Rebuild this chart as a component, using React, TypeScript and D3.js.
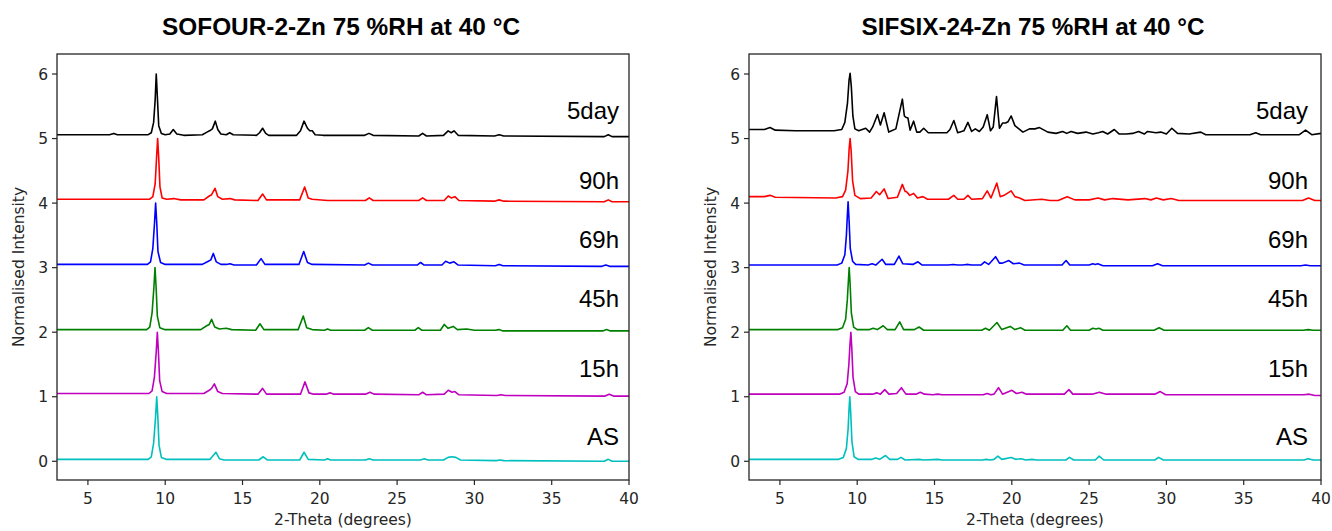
import React from "react";
import * as d3 from "d3";

type Pt = [number, number];

// ---------- Data ----------
const seriesNames = ["5day", "90h", "69h", "45h", "15h", "AS"];
const seriesColors = ["#000000", "#ff0000", "#0000ff", "#008000", "#bf00bf", "#00bfbf"];
const labelBaselines = [5.31, 4.22, 3.31, 2.39, 1.31, 0.25];
const yTicks = [0, 1, 2, 3, 4, 5, 6];
const xTicks = [5, 10, 15, 20, 25, 30, 35, 40];
const xDomain: [number, number] = [3, 40];
const yDomain: [number, number] = [-0.29, 6.31];
const titles = ["SOFOUR-2-Zn 75 %RH at 40 °C", "SIFSIX-24-Zn 75 %RH at 40 °C"];

const sofour5day: Pt[] = [[3,5.06],[6.4,5.06],[6.67,5.08],[6.9,5.06],[8.9,5.06],[9.1,5.09],[9.25,5.25],[9.35,5.6],[9.42,6.0],[9.5,5.6],[9.58,5.2],[9.75,5.08],[10.0,5.06],[10.3,5.07],[10.52,5.14],[10.75,5.07],[11.2,5.05],[12.4,5.06],[12.7,5.1],[12.87,5.12],[13.05,5.15],[13.24,5.27],[13.4,5.14],[13.6,5.07],[13.95,5.06],[14.17,5.09],[14.4,5.06],[15.9,5.05],[16.1,5.09],[16.3,5.16],[16.5,5.08],[16.7,5.05],[18.5,5.05],[18.75,5.12],[18.98,5.27],[19.2,5.16],[19.35,5.12],[19.51,5.12],[19.7,5.06],[20.2,5.05],[22.9,5.05],[23.18,5.08],[23.45,5.05],[26.4,5.04],[26.65,5.08],[26.9,5.04],[28.0,5.05],[28.3,5.12],[28.5,5.09],[28.68,5.12],[28.95,5.05],[31.3,5.04],[31.6,5.06],[31.9,5.04],[38.4,5.03],[38.66,5.06],[38.9,5.03],[40,5.03]];
const sofour90h: Pt[] = [[3,4.06],[9.0,4.06],[9.2,4.1],[9.35,4.3],[9.44,4.7],[9.51,5.0],[9.58,4.7],[9.66,4.25],[9.8,4.08],[10.1,4.06],[10.55,4.07],[11,4.05],[12.5,4.05],[12.85,4.11],[13.0,4.13],[13.22,4.23],[13.4,4.1],[13.7,4.06],[14.19,4.07],[14.5,4.05],[16.0,4.04],[16.3,4.14],[16.55,4.05],[18.7,4.05],[19.02,4.25],[19.25,4.08],[19.5,4.06],[20.5,4.04],[22.95,4.04],[23.2,4.08],[23.45,4.04],[26.4,4.04],[26.65,4.08],[26.9,4.04],[28.05,4.04],[28.31,4.11],[28.5,4.08],[28.74,4.1],[29.0,4.04],[31.3,4.03],[31.6,4.05],[31.9,4.03],[38.4,4.02],[38.66,4.05],[38.9,4.02],[40,4.02]];
const sofour69h: Pt[] = [[3,3.05],[8.85,3.05],[9.05,3.09],[9.2,3.3],[9.31,3.7],[9.38,4.0],[9.45,3.7],[9.53,3.25],[9.7,3.08],[10.0,3.05],[12.4,3.05],[12.79,3.1],[12.95,3.12],[13.11,3.22],[13.3,3.09],[13.6,3.05],[13.95,3.05],[14.19,3.06],[14.45,3.04],[15.9,3.04],[16.2,3.14],[16.45,3.05],[18.65,3.05],[18.96,3.25],[19.2,3.08],[19.5,3.05],[22.9,3.04],[23.14,3.07],[23.4,3.04],[26.3,3.04],[26.52,3.08],[26.75,3.04],[27.9,3.04],[28.14,3.1],[28.4,3.07],[28.68,3.09],[28.95,3.04],[31.35,3.03],[31.6,3.05],[31.85,3.03],[38.25,3.02],[38.5,3.04],[38.75,3.02],[40,3.02]];
const sofour45h: Pt[] = [[3,2.04],[8.8,2.04],[9.0,2.08],[9.15,2.3],[9.27,2.7],[9.34,3.0],[9.41,2.7],[9.49,2.25],[9.65,2.07],[9.95,2.04],[12.3,2.04],[12.68,2.1],[12.85,2.12],[13.0,2.2],[13.2,2.08],[13.5,2.05],[13.95,2.06],[14.3,2.04],[15.85,2.03],[16.13,2.13],[16.38,2.04],[18.6,2.04],[18.93,2.25],[19.15,2.07],[19.5,2.04],[20.3,2.03],[20.5,2.05],[20.7,2.03],[22.9,2.03],[23.14,2.07],[23.4,2.03],[26.15,2.03],[26.37,2.07],[26.6,2.03],[27.8,2.03],[28.05,2.12],[28.3,2.06],[28.63,2.09],[28.9,2.04],[29.5,2.05],[30,2.03],[31.35,2.03],[31.59,2.04],[31.85,2.02],[38.3,2.02],[38.55,2.04],[38.8,2.02],[40,2.02]];
const sofour15h: Pt[] = [[3,1.05],[8.95,1.05],[9.15,1.09],[9.3,1.3],[9.42,1.7],[9.49,2.0],[9.56,1.7],[9.64,1.25],[9.8,1.08],[10.1,1.05],[12.5,1.05],[12.85,1.1],[13.0,1.13],[13.18,1.2],[13.4,1.08],[13.7,1.05],[16.0,1.04],[16.3,1.13],[16.55,1.04],[18.75,1.04],[19.04,1.23],[19.3,1.06],[19.6,1.04],[20.4,1.04],[20.66,1.06],[20.9,1.04],[22.95,1.04],[23.25,1.07],[23.5,1.04],[26.4,1.03],[26.65,1.07],[26.9,1.03],[28.05,1.04],[28.31,1.1],[28.55,1.07],[28.74,1.08],[29.0,1.03],[31.45,1.02],[31.72,1.03],[32.0,1.02],[38.45,1.01],[38.72,1.04],[39.0,1.01],[40,1.01]];
const sofourAS: Pt[] = [[3,0.03],[8.9,0.03],[9.1,0.07],[9.25,0.28],[9.38,0.7],[9.45,1.0],[9.52,0.7],[9.6,0.25],[9.75,0.06],[10.05,0.03],[12.9,0.03],[13.28,0.14],[13.5,0.04],[13.8,0.02],[16.05,0.02],[16.34,0.07],[16.6,0.02],[18.7,0.02],[18.98,0.14],[19.25,0.03],[20.3,0.02],[20.5,0.04],[20.7,0.02],[22.95,0.02],[23.2,0.04],[23.45,0.02],[26.5,0.02],[26.76,0.04],[27.0,0.02],[28.0,0.02],[28.3,0.06],[28.53,0.07],[28.8,0.06],[29.1,0.02],[31.4,0.01],[31.66,0.02],[31.9,0.01],[38.4,0.0],[38.66,0.03],[38.9,0.0],[40,0.0]];

const sifsix5day: Pt[] = [[3,5.14],[4.0,5.14],[4.36,5.17],[4.7,5.13],[6,5.12],[8.5,5.12],[9.0,5.14],[9.2,5.25],[9.37,5.55],[9.47,5.9],[9.54,6.01],[9.62,5.8],[9.72,5.35],[9.85,5.15],[10.1,5.12],[10.55,5.16],[10.8,5.1],[11.0,5.18],[11.31,5.37],[11.5,5.21],[11.74,5.4],[12.04,5.1],[12.5,5.15],[12.92,5.61],[13.05,5.35],[13.14,5.33],[13.28,5.32],[13.42,5.13],[13.65,5.27],[13.85,5.1],[14.05,5.1],[14.3,5.16],[14.6,5.09],[15.8,5.09],[16.0,5.14],[16.25,5.28],[16.5,5.09],[16.9,5.12],[17.16,5.25],[17.4,5.11],[17.64,5.15],[17.9,5.11],[18.15,5.18],[18.41,5.37],[18.62,5.12],[18.8,5.18],[19.01,5.65],[19.2,5.16],[19.4,5.24],[19.6,5.24],[19.75,5.26],[19.96,5.35],[20.2,5.2],[20.4,5.16],[20.72,5.1],[21.14,5.15],[21.5,5.15],[21.79,5.17],[22.33,5.1],[22.86,5.08],[23.29,5.11],[23.55,5.08],[23.83,5.11],[24.26,5.08],[24.8,5.1],[25.24,5.07],[25.6,5.09],[25.88,5.11],[26.2,5.07],[26.63,5.14],[26.95,5.07],[27.4,5.07],[27.81,5.08],[28.2,5.11],[28.57,5.07],[28.78,5.11],[29.32,5.09],[29.64,5.1],[30.0,5.07],[30.35,5.16],[30.72,5.08],[31.47,5.07],[32.22,5.1],[32.55,5.06],[34,5.06],[35.4,5.06],[35.78,5.09],[36.1,5.06],[38.6,5.06],[39.0,5.13],[39.4,5.06],[40,5.08]];
const sifsix90h: Pt[] = [[3,4.1],[4.0,4.1],[4.36,4.12],[4.7,4.09],[8.6,4.08],[9.05,4.1],[9.25,4.2],[9.4,4.5],[9.48,4.85],[9.54,5.0],[9.61,4.8],[9.7,4.35],[9.85,4.12],[10.2,4.07],[10.9,4.08],[11.24,4.18],[11.45,4.13],[11.74,4.22],[12.0,4.07],[12.6,4.09],[12.92,4.29],[13.1,4.18],[13.18,4.18],[13.4,4.12],[13.65,4.15],[13.9,4.08],[14.25,4.1],[14.55,4.06],[15.9,4.06],[16.25,4.12],[16.5,4.06],[16.9,4.06],[17.16,4.12],[17.4,4.06],[18.1,4.07],[18.41,4.19],[18.65,4.08],[19.03,4.31],[19.25,4.1],[19.5,4.12],[19.96,4.19],[20.2,4.1],[20.5,4.08],[20.85,4.04],[21.93,4.06],[22.47,4.04],[23.0,4.04],[23.58,4.1],[24.08,4.05],[25.0,4.05],[25.58,4.08],[26.0,4.05],[26.55,4.07],[27.52,4.05],[28.6,4.07],[29.0,4.05],[29.35,4.08],[29.8,4.05],[30.32,4.07],[30.8,4.04],[31.4,4.04],[38.8,4.04],[39.2,4.08],[39.6,4.04],[40,4.04]];
const sifsix69h: Pt[] = [[3,3.04],[8.7,3.04],[9.0,3.07],[9.2,3.2],[9.3,3.5],[9.36,3.8],[9.41,4.02],[9.47,3.75],[9.55,3.3],[9.7,3.1],[9.9,3.05],[10.7,3.04],[10.96,3.06],[11.2,3.04],[11.61,3.13],[11.85,3.05],[12.4,3.05],[12.7,3.18],[12.95,3.06],[13.6,3.05],[13.93,3.09],[14.2,3.04],[15.9,3.04],[16.2,3.05],[16.5,3.04],[16.8,3.04],[17.08,3.05],[17.4,3.04],[18.0,3.04],[18.24,3.09],[18.5,3.05],[18.95,3.17],[19.2,3.07],[19.4,3.07],[19.81,3.11],[20.1,3.06],[20.5,3.07],[20.8,3.04],[23.25,3.04],[23.51,3.11],[23.75,3.04],[25.0,3.04],[25.24,3.06],[25.4,3.05],[25.56,3.06],[25.9,3.03],[29.1,3.03],[29.43,3.06],[29.75,3.03],[38.7,3.03],[39.0,3.04],[39.3,3.03],[40,3.03]];
const sifsix45h: Pt[] = [[3,2.04],[8.75,2.04],[9.05,2.07],[9.25,2.2],[9.36,2.5],[9.43,2.8],[9.48,3.0],[9.54,2.75],[9.62,2.3],[9.77,2.08],[10.0,2.04],[10.8,2.04],[11.03,2.06],[11.3,2.04],[11.68,2.1],[11.95,2.04],[12.45,2.04],[12.75,2.16],[13.0,2.04],[13.7,2.04],[14.0,2.08],[14.3,2.03],[14.8,2.03],[15.0,2.03],[18.05,2.03],[18.3,2.06],[18.55,2.03],[19.04,2.15],[19.35,2.04],[19.9,2.09],[20.2,2.04],[20.56,2.07],[20.85,2.03],[23.3,2.03],[23.56,2.1],[23.8,2.03],[25.0,2.03],[25.24,2.06],[25.45,2.05],[25.63,2.06],[25.9,2.03],[29.2,2.03],[29.53,2.07],[29.85,2.03],[38.85,2.03],[39.17,2.04],[39.5,2.03],[40,2.03]];
const sifsix15h: Pt[] = [[3,1.04],[8.85,1.04],[9.15,1.07],[9.35,1.2],[9.46,1.5],[9.53,1.8],[9.59,2.0],[9.65,1.75],[9.73,1.3],[9.88,1.08],[10.1,1.04],[11.0,1.04],[11.26,1.06],[11.5,1.04],[11.78,1.11],[12.05,1.04],[12.55,1.05],[12.86,1.14],[13.15,1.04],[13.8,1.04],[14.08,1.07],[14.35,1.04],[14.9,1.03],[15.2,1.04],[15.5,1.03],[18.15,1.03],[18.4,1.05],[18.65,1.03],[18.85,1.04],[19.14,1.14],[19.4,1.04],[20.01,1.1],[20.3,1.05],[20.66,1.07],[20.95,1.04],[23.4,1.04],[23.69,1.11],[23.95,1.04],[25.2,1.04],[25.66,1.07],[26.1,1.04],[29.25,1.04],[29.6,1.08],[29.95,1.03],[38.9,1.03],[39.24,1.04],[39.6,1.02],[40,1.02]];
const sifsixAS: Pt[] = [[3,0.03],[8.8,0.03],[9.1,0.06],[9.3,0.2],[9.41,0.5],[9.47,0.8],[9.52,1.0],[9.58,0.75],[9.66,0.3],[9.8,0.07],[10.05,0.03],[10.95,0.03],[11.2,0.05],[11.45,0.03],[11.83,0.09],[12.1,0.03],[12.6,0.03],[12.83,0.06],[13.1,0.02],[14.0,0.03],[14.3,0.02],[15.2,0.03],[15.5,0.02],[18.1,0.02],[18.34,0.03],[18.6,0.02],[18.85,0.03],[19.1,0.08],[19.35,0.03],[19.96,0.06],[20.25,0.03],[20.6,0.04],[20.9,0.02],[21.3,0.03],[21.6,0.02],[23.5,0.02],[23.73,0.06],[24.0,0.02],[25.4,0.02],[25.65,0.08],[25.95,0.02],[29.25,0.02],[29.5,0.06],[29.8,0.02],[38.9,0.02],[39.17,0.04],[39.5,0.02],[40,0.02]];

const sofourSeries = [sofour5day, sofour90h, sofour69h, sofour45h, sofour15h, sofourAS];
const sifsixSeries = [sifsix5day, sifsix90h, sifsix69h, sifsix45h, sifsix15h, sifsixAS];

// ---------- Rendering ----------
const W = 1332;
const H = 531;
const tickFont = "'DejaVu Sans', sans-serif";
const labelFont = "'Liberation Sans', Arial, sans-serif";
const axisColor = "#262626";

interface PanelProps {
  left: number;
  right: number;
  top: number;
  bottom: number;
  title: string;
  titleLen: number;
  series: Pt[][];
  labelInset: number;
  yLabelX: number;
  id: string;
}

function Panel({ left, right, top, bottom, title, titleLen, series, labelInset, yLabelX, id }: PanelProps) {
  const x = d3.scaleLinear().domain(xDomain).range([left, right]);
  const y = d3.scaleLinear().domain(yDomain).range([bottom, top]);
  const line = d3
    .line<Pt>()
    .x((d) => x(d[0]))
    .y((d) => y(d[1]))
    .curve(d3.curveLinear);
  const cx = (left + right) / 2;
  const cy = (top + bottom) / 2;
  return (
    <g>
      <defs>
        <clipPath id={id}>
          <rect x={left} y={top} width={right - left} height={bottom - top} />
        </clipPath>
      </defs>
      <text
        x={cx - 2}
        y={35}
        textAnchor="middle"
        fontFamily={labelFont}
        fontWeight="bold"
        fontSize={24}
        textLength={titleLen}
        lengthAdjust="spacingAndGlyphs"
        fill="#000"
      >
        {title}
      </text>
      <g clipPath={`url(#${id})`}>
        {series.map((s, i) => (
          <path
            key={i}
            d={line(s) || ""}
            fill="none"
            stroke={seriesColors[i]}
            strokeWidth={1.6}
            strokeLinejoin="round"
          />
        ))}
      </g>
      {series.map((_, i) => (
        <text
          key={"l" + i}
          x={right - labelInset}
          y={y(labelBaselines[i])}
          textAnchor="end"
          fontFamily={labelFont}
          fontSize={24}
          fill="#000"
        >
          {seriesNames[i]}
        </text>
      ))}
      <rect
        x={left}
        y={top}
        width={right - left}
        height={bottom - top}
        fill="none"
        stroke={axisColor}
        strokeWidth={1.3}
      />
      {xTicks.map((t) => (
        <g key={"x" + t}>
          <line x1={x(t)} x2={x(t)} y1={bottom} y2={bottom + 5} stroke={axisColor} strokeWidth={1.2} />
          <text
            x={x(t)}
            y={bottom + 24}
            textAnchor="middle"
            fontFamily={tickFont}
            fontSize={15.5}
            fill={axisColor}
          >
            {t}
          </text>
        </g>
      ))}
      {yTicks.map((t) => (
        <g key={"y" + t}>
          <line x1={left - 5} x2={left} y1={y(t)} y2={y(t)} stroke={axisColor} strokeWidth={1.2} />
          <text
            x={left - 9}
            y={y(t)}
            dy="0.36em"
            textAnchor="end"
            fontFamily={tickFont}
            fontSize={15.5}
            fill={axisColor}
          >
            {t}
          </text>
        </g>
      ))}
      <text
        x={cx}
        y={525}
        textAnchor="middle"
        fontFamily={tickFont}
        fontSize={15.5}
        fill={axisColor}
      >
        2-Theta (degrees)
      </text>
      <text
        transform={`translate(${yLabelX},${cy}) rotate(-90)`}
        textAnchor="middle"
        fontFamily={tickFont}
        fontSize={15.5}
        fill={axisColor}
      >
        Normalised Intensity
      </text>
    </g>
  );
}

export default function App() {
  return (
    <svg
      width={W}
      height={H}
      viewBox={`0 0 ${W} ${H}`}
      style={{ position: "absolute", left: 0, top: 0, background: "#fff" }}
    >
      <rect x={0} y={0} width={W} height={H} fill="#fff" />
      <Panel
        id="clipA"
        left={57}
        right={629}
        top={54}
        bottom={480}
        title={titles[0]}
        titleLen={358}
        series={sofourSeries}
        labelInset={10}
        yLabelX={24}
      />
      <Panel
        id="clipB"
        left={749}
        right={1321}
        top={54}
        bottom={480}
        title={titles[1]}
        titleLen={343}
        series={sifsixSeries}
        labelInset={13}
        yLabelX={716}
      />
    </svg>
  );
}
